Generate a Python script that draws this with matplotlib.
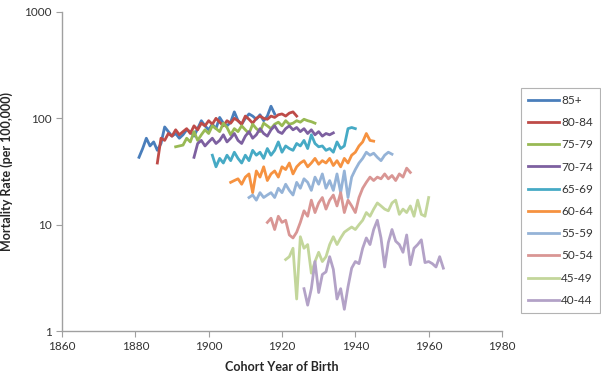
import matplotlib
matplotlib.use("Agg")
import matplotlib.pyplot as plt
import numpy as np

plt.rcParams['font.family'] = ['Lato', 'DejaVu Sans']

labels = ["85+", "80-84", "75-79", "70-74", "65-69", "60-64", "55-59", "50-54", "45-49", "40-44"]
legend_labels = ["85+", "80\u201084", "75\u201079", "70\u201074", "65\u201069", "60\u201064",
                 "55\u201059", "50\u201054", "45\u201049", "40\u201044"]
start_years = [1881, 1886, 1891, 1896, 1901, 1906, 1911, 1916, 1921, 1926]
colors = ["#4A7EBB", "#BE4B48", "#98B954", "#7D60A0", "#46AAC5", "#F69240",
          "#95B3D7", "#D99694", "#C3D69B", "#B3A2C7"]

rate_85 = [43, 52, 65, 55, 60, 50, 58, 83, 75, 68, 72, 65, 70, 78, 75, 68, 80, 95, 85,
           78, 88, 80, 102, 90, 85, 92, 115, 95, 88, 100, 110, 105, 98, 108, 95, 105, 130, 110]
rate_80 = [38, 65, 62, 72, 68, 78, 70, 75, 80, 72, 85, 78, 90, 85, 95, 88, 100, 92, 85,
           95, 90, 100, 95, 88, 105, 98, 90, 100, 105, 100, 98, 105, 102, 108, 110, 105, 112, 115, 105]
rate_75 = [54, 55, 56, 65, 60, 75, 62, 70, 78, 72, 85, 80, 75, 90, 82, 70, 80, 75, 85, 78,
           72, 88, 80, 75, 90, 85, 80, 88, 92, 85, 95, 88, 90, 95, 92, 98, 95, 93, 90]
rate_70 = [43, 58, 62, 55, 60, 65, 58, 62, 70, 60, 65, 72, 62, 58, 68, 75, 65, 70, 80, 72,
           68, 78, 85, 75, 72, 80, 85, 78, 82, 75, 80, 72, 78, 70, 75, 68, 72, 70, 73]
rate_65 = [45, 35, 42, 38, 45, 40, 48, 42, 38, 45, 40, 50, 45, 48, 42, 52, 45, 50, 60, 48,
           55, 52, 50, 58, 55, 62, 52, 70, 58, 54, 55, 50, 52, 48, 60, 52, 55, 80, 82, 80]
rate_60 = [25, 26, 27, 24, 28, 30, 20, 32, 28, 35, 26, 30, 32, 28, 35, 33, 38, 30, 35, 38,
           40, 35, 38, 42, 37, 40, 38, 42, 36, 40, 35, 42, 38, 45, 48, 55, 60, 72, 62, 61]
rate_55 = [18, 19, 17, 20, 18, 19, 20, 18, 22, 20, 24, 21, 19, 25, 22, 27, 25, 21, 28, 24,
           30, 22, 26, 21, 30, 20, 32, 18, 28, 33, 38, 42, 48, 45, 47, 43, 40, 45, 48, 46]
rate_50 = [10.5, 11.5, 9, 12, 10.5, 11, 8, 7.5, 8.5, 10.5, 13.5, 12, 17, 13, 16, 18, 14, 17, 19, 15,
           20, 13, 17, 15, 13, 18, 22, 25, 28, 26, 28, 27, 30, 27, 29, 26, 30, 28, 34, 31]
rate_45 = [4.7, 5.0, 6.0, 2.0, 7.7, 6.0, 6.5, 3.5, 4.5, 5.5, 4.5, 5.0, 6.5, 7.7, 6.5, 7.5, 8.5, 9.0, 9.5, 9.0,
           10, 11, 13, 12, 14, 16, 15, 14, 13.5, 16, 17, 12.5, 14, 13, 15, 12, 17, 12.5, 12, 18]
rate_40 = [2.5, 1.75, 2.5, 4.5, 2.3, 3.4, 3.6, 5.0, 3.8, 2.0, 2.5, 1.6, 2.6, 3.9, 4.5, 4.3, 6.0, 7.5, 6.5, 9.0,
           11, 7.5, 4.0, 6.8, 9.0, 7.0, 6.5, 5.5, 8.0, 4.2, 6.0, 6.5, 7.2, 4.4, 4.5, 4.3, 4.0, 5.0, 3.9]

series = [rate_85, rate_80, rate_75, rate_70, rate_65, rate_60, rate_55, rate_50, rate_45, rate_40]

fig = plt.figure(figsize=(6.01, 3.79), dpi=100)
ax = fig.add_axes([62/601, 1-331/379, (502-62)/601, (331-12)/379])

for lab, s0, col, vals in zip(legend_labels, start_years, colors, series):
    years = np.arange(s0, s0 + len(vals))
    ax.plot(years, vals, color=col, lw=2.0, label=lab, solid_joinstyle='round')

ax.set_yscale('log')
ax.set_ylim(1, 1000)
ax.set_xlim(1860, 1980)
ax.set_xticks([1860, 1880, 1900, 1920, 1940, 1960, 1980])
ax.set_yticks([1, 10, 100, 1000])
ax.set_yticklabels(["1", "10", "100", "1000"])
ax.yaxis.set_minor_locator(matplotlib.ticker.NullLocator())
for side in ['top', 'right']:
    ax.spines[side].set_visible(False)
for side in ['left', 'bottom']:
    ax.spines[side].set_color('#A0A0A0')
    ax.spines[side].set_linewidth(1.0)
ax.tick_params(axis='both', colors='#A0A0A0', labelcolor='#333333', labelsize=8.5, length=4, direction='out')
ax.set_xlabel("Cohort Year of Birth", fontsize=9, fontweight='bold', color='#262626', labelpad=6)
ax.set_ylabel("Mortality Rate (per 100,000)", fontsize=9, fontweight='bold', color='#262626', labelpad=8)

leg = fig.legend(loc='upper left', bbox_to_anchor=(515/601, 1-82/379), fontsize=8.5,
                 frameon=True, fancybox=False, handlelength=2.6, handletextpad=0.2,
                 labelspacing=0.95, borderpad=0.6)
leg.get_frame().set_edgecolor('#A0A0A0')
leg.get_frame().set_linewidth(0.8)
for t in leg.get_texts():
    t.set_color('#333333')

fig.savefig("out.png", dpi=100)
